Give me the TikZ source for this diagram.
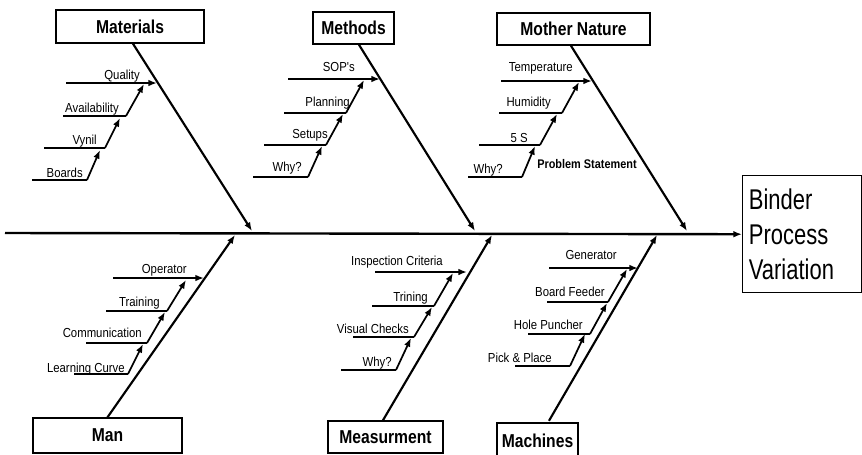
\documentclass[tikz,border=0pt]{standalone}
\usepackage{fontspec}
\setmainfont{Liberation Sans}
\newfontfamily\lblfont[FakeStretch=0.87]{Liberation Sans}
\newfontfamily\ttlfont[FakeStretch=0.84]{Liberation Sans}
\newfontfamily\bigfont[FakeStretch=0.77]{Liberation Sans}
\usetikzlibrary{arrows.meta}
\begin{document}
\begin{tikzpicture}[x=0.75pt,y=-0.75pt,
 cat/.style={draw,line width=1.1pt,font=\ttlfont\bfseries\fontsize{14}{16}\selectfont,inner sep=0pt},
 lbl/.style={font=\lblfont\fontsize{9.8}{11}\selectfont,inner sep=0pt,anchor=base east},
 spine/.style={line width=1.6pt,-{Latex[length=6.5pt,width=5pt]}},
 sub/.style={line width=1.3pt},
 subarr/.style={line width=1.3pt,-{Latex[length=6.5pt,width=5pt]}},
]
\useasboundingbox (0,0) rectangle (862,454);

% effect box
\node[draw,line width=1.1pt,anchor=north west,minimum width=89.25pt,minimum height=87.75pt,
  text width=80pt,align=left,inner sep=3pt,font=\bigfont\fontsize{21.4}{26}\selectfont]
  (bind) at (742,175) {Binder\\Process\\Variation};

% category boxes
\node[cat,minimum width=111pt,minimum height=24.75pt] (mat) at (130,26.5) {Materials};
\node[cat,minimum width=60.75pt,minimum height=24pt] (met) at (353.5,28) {Methods};
\node[cat,minimum width=114.75pt,minimum height=24pt] (mot) at (573.5,29) {Mother Nature};
\node[cat,minimum width=111.75pt,minimum height=26.25pt] (man) at (107.5,435.5) {Man};
\node[cat,minimum width=86.25pt,minimum height=24pt] (mea) at (385.5,437) {Measurment};
\node[cat,minimum width=60.75pt,minimum height=27pt] (mac) at (537.5,441) {Machines};

% main line
\coordinate (mainL) at (5,233);
\draw[line width=1.8pt,-{Latex[length=6.5pt,width=5pt]}] (mainL) -- (bind.west);

% spine ends on main line
\coordinate (matE) at (252,231);
\coordinate (metE) at (475,231);
\coordinate (motE) at (687,231);
\coordinate (manE) at (235,235);
\coordinate (meaE) at (492,235);
\coordinate (macE) at (657,235);

\draw[spine] ([xshift=2.25pt]mat.south) -- (matE);
\draw[spine] ([xshift=4.1pt]met.south) -- (metE);
\draw[spine] ([xshift=-1.9pt]mot.south) -- (motE);
\draw[spine] (man.north) -- (manE);
\draw[spine] ([xshift=-1.9pt]mea.north) -- (meaE);
\draw[spine] ([xshift=8.6pt,yshift=1.1pt]mac.north) -- (macE);

% top sub-causes (horizontal arrow into the spine)
\foreach \n/\xl/\y/\xr/\txt/\lx/\ly in {
  qua/66/83/157/Quality/140/79,
  sop/288/79/380/SOP's/355/71,
  tem/501/81/592/Temperature/573/71,
  ope/113/278/204/Operator/187/273,
  ins/375/272/467/Inspection Criteria/443/265,
  gen/549/268/638/Generator/617/259}
{
  \coordinate (\n a) at (\xl,\y);
  \coordinate (\n b) at (\xr,\y);
  \draw[subarr] (\n a) -- (\n b);
  \node[lbl] (\n t) at (\lx,\ly) {\txt};
}

% lower sub-causes (horizontal line, then arrow up to the line above)
\foreach \n/\xl/\y/\xr/\xt/\yt/\txt/\lx/\ly in {
  ava/63/116/126/144/84/Availability/119/112,
  vyn/44/148/105/120/118/Vynil/97/144,
  boa/32/180/87/100/150/Boards/83/177,
  pla/284/113/346/364/80/Planning/350/106,
  set/264/145/326/343/114/Setups/328/138,
  why/253/177/308/322/146/Why?/302/171,
  hum/499/113/562/579/82/Humidity/551/106,
  fiv/479/145/540/557/114/5 S/528/142,
  whn/468/177/522/535/146/Why?/503/173,
  tra/106/311/167/186/280/Training/160/306,
  com/86/343/147/165/312/Communication/142/337,
  lea/74/374/128/143/344/Learning Curve/125/372,
  tri/372/306/434/453/273/Trining/428/301,
  vis/353/337/414/432/307/Visual Checks/409/333,
  whm/341/370/396/411/338/Why?/392/366,
  bfe/547/302/608/627/269/Board Feeder/605/296,
  hol/528/334/590/607/303/Hole Puncher/583/329,
  pic/515/366/570/585/334/{Pick \& Place}/552/362}
{
  \coordinate (\n a) at (\xl,\y);
  \coordinate (\n b) at (\xr,\y);
  \coordinate (\n c) at (\xt,\yt);
  \draw[sub] (\n a) -- (\n b);
  \draw[subarr] (\n b) -- (\n c);
  \node[lbl] (\n t) at (\lx,\ly) {\txt};
}

\node[anchor=base west,inner sep=0pt,font=\lblfont\bfseries\fontsize{9.4}{11}\selectfont]
  (ps) at (537,168) {Problem Statement};
\end{tikzpicture}
\end{document}
